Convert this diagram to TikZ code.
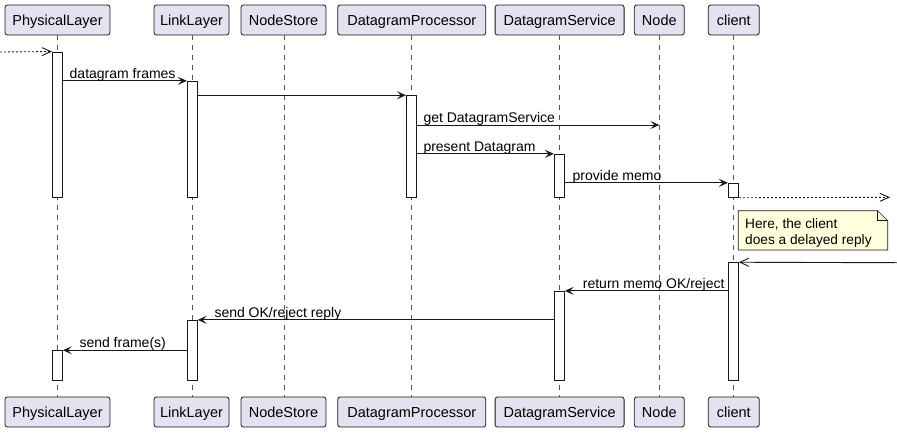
\documentclass[tikz,border=0pt]{standalone}
\usepackage{fontspec}
\setmainfont{Liberation Sans}
\usetikzlibrary{arrows.meta,calc}
\definecolor{partfill}{HTML}{E2E2F0}
\definecolor{linec}{HTML}{181818}
\definecolor{notefill}{HTML}{FEFFDD}
\definecolor{lifec}{HTML}{555555}
\tikzset{
  part/.style={draw=linec, fill=partfill, line width=0.8pt, rounded corners=2.5pt,
    minimum height=30pt, inner sep=0pt, text height=10.5pt, text depth=0pt,
    font=\fontsize{14.5}{17}\selectfont},
  lifeline/.style={draw=lifec, line width=0.7pt, dash pattern=on 5pt off 5pt},
  act/.style={draw=linec, fill=white, line width=0.9pt, minimum width=10pt, inner sep=0pt},
  msg/.style={draw=linec, line width=0.9pt, -{Stealth[length=9pt,width=8pt,inset=4pt]}},
  amsg/.style={draw=linec, line width=0.9pt, -{Straight Barb[length=9pt,width=8pt]}},
  dmsg/.style={amsg, dash pattern=on 2pt off 2pt},
  lbl/.style={anchor=base west, inner sep=0pt, font=\fontsize{14}{16}\selectfont},
  notetext/.style={anchor=base west, inner sep=0pt, font=\fontsize{13.7}{16}\selectfont},
}
\begin{document}
\begin{tikzpicture}[x=1pt,y=-1pt]
\useasboundingbox (0,0) rectangle (897,432);
% participants top
\node[part, minimum width=105pt] (plT) at (57.5,20) {PhysicalLayer};
\node[part, minimum width=75pt]  (llT) at (191.5,20) {LinkLayer};
\node[part, minimum width=85pt]  (nsT) at (283.5,20) {NodeStore};
\node[part, minimum width=148pt] (dpT) at (411.8,20) {DatagramProcessor};
\node[part, minimum width=129pt] (dsT) at (559.6,20) {DatagramService};
\node[part, minimum width=50pt]  (ndT) at (659.3,20) {Node};
\node[part, minimum width=51pt]  (clT) at (733.8,20) {client};
% participants bottom
\node[part, minimum width=105pt] (plB) at (57.5,412) {PhysicalLayer};
\node[part, minimum width=75pt]  (llB) at (191.5,412) {LinkLayer};
\node[part, minimum width=85pt]  (nsB) at (283.5,412) {NodeStore};
\node[part, minimum width=148pt] (dpB) at (411.8,412) {DatagramProcessor};
\node[part, minimum width=129pt] (dsB) at (559.6,412) {DatagramService};
\node[part, minimum width=50pt]  (ndB) at (659.3,412) {Node};
\node[part, minimum width=51pt]  (clB) at (733.8,412) {client};
% lifelines
\coordinate (plX) at (57.5,0);
\coordinate (llX) at (192.3,0);
\coordinate (nsX) at (284.2,0);
\coordinate (dpX) at (411.3,0);
\coordinate (dsX) at (559.3,0);
\coordinate (ndX) at (659.3,0);
\coordinate (clX) at (733.3,0);
\foreach \p in {pl,ll,ns,dp,ds,nd,cl}{
  \draw[lifeline] (\p X |- \p T.south) -- (\p X |- \p B.north);
}
% activations
\node[act, minimum height=145.3pt] (pl1) at (57.5,124.65) {};
\node[act, minimum height=116pt]   (ll1) at (192.3,139.3) {};
\node[act, minimum height=101.6pt] (dp1) at (411.3,146.5) {};
\node[act, minimum height=43pt]    (ds1) at (559.3,175.8) {};
\node[act, minimum height=14pt]    (cl1) at (733.3,190.3) {};
\node[act, minimum height=117.3pt] (cl2) at (733.3,321.35) {};
\node[act, minimum height=88.7pt]  (ds2) at (559.3,335.65) {};
\node[act, minimum height=59.7pt]  (ll2) at (192.3,350.15) {};
\node[act, minimum height=29.3pt]  (pl2) at (57.5,365.35) {};
% messages
\coordinate (in0) at (0,52);
\draw[dmsg] (in0) -- (pl1.north west);
\draw[msg] (pl1.east |- ll1.north) -- (ll1.north west);
\node[lbl] (m1) at (69.5,78.3) {datagram frames};
\draw[msg] (ll1.east |- dp1.north) -- (dp1.north west);
\coordinate (gy) at (0,125);
\draw[msg] (dp1.east |- gy) -- (ndX |- gy);
\node[lbl] (m2) at (423.3,122) {get DatagramService};
\draw[msg] (dp1.east |- ds1.north) -- (ds1.north west);
\node[lbl] (m3) at (423.3,151.3) {present Datagram};
\draw[msg] (ds1.east |- cl1.north) -- (cl1.north west);
\node[lbl] (m4) at (572.5,180.3) {provide memo};
\coordinate (out0) at (890,197.3);
\draw[dmsg] (cl1.south east) -- (out0);
% note
\path[draw=linec, fill=notefill, line width=0.7pt]
  (738.3,210.7) -- (877.7,210.7) -- (887.7,220.7) -- (887.7,250) -- (738.3,250) -- cycle;
\draw[draw=linec, line width=0.7pt] (877.7,210.7) -- (877.7,220.7) -- (887.7,220.7);
\node[notetext] (note1) at (745,228) {Here, the client};
\node[notetext] (note2) at (745,244) {does a delayed reply};
\coordinate (in1) at (897,262.7);
\draw[amsg] (in1) -- (cl2.north east);
\draw[msg] (cl2.west |- ds2.north) -- (ds2.north east);
\node[lbl] (m5) at (582.7,288.3) {return memo OK/reject};
\draw[msg] (ds2.west |- ll2.north) -- (ll2.north east);
\node[lbl] (m6) at (214.3,317.3) {send OK/reject reply};
\draw[msg] (ll2.west |- pl2.north) -- (pl2.north east);
\node[lbl] (m7) at (79.3,347.7) {send frame(s)};
\end{tikzpicture}
\end{document}
